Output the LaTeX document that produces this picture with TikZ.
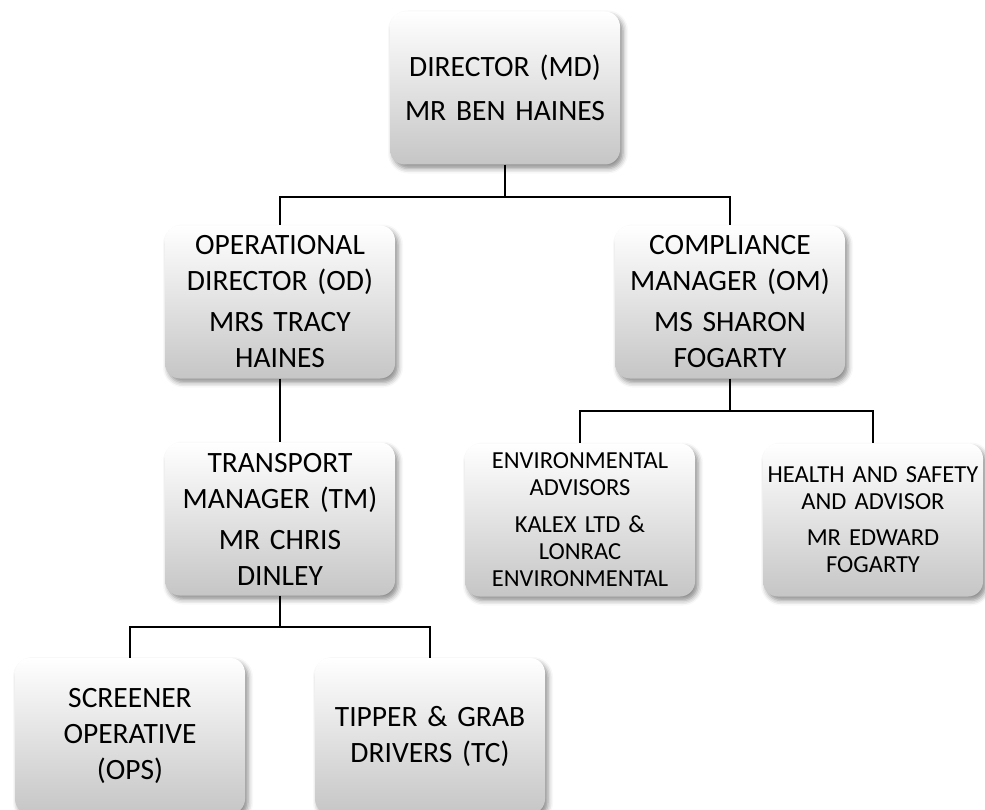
\documentclass[tikz,border=0pt]{standalone}
\usepackage{fontspec}
\setmainfont{Carlito}[WordSpace=0.7]
\usetikzlibrary{positioning, shadows.blur}

\newcommand{\orgfont}{\fontsize{29.5}{36}\selectfont}
\newcommand{\orgsmall}{\fontsize{24.5}{27}\selectfont}

\begin{document}
\begin{tikzpicture}[
    x=1pt, y=-1pt,
    orgbox/.style={rounded corners=15pt, top color=white, bottom color=gray!45,
        minimum width=230pt, minimum height=153pt, text width=222pt,
        align=center, inner sep=0pt, font=\orgfont,
        blur shadow={shadow xshift=3pt, shadow yshift=-4pt,
            shadow blur radius=5pt, shadow opacity=45}},
    link/.style={line width=1.6pt, black},
]
\useasboundingbox (0,0) rectangle (985,810);

% Level 1
\node[orgbox] (dir) at (505,88) {DIRECTOR (MD)\\[8pt]MR BEN HAINES};

% Level 2
\node[orgbox] (od) at (280,302) {OPERATIONAL\\DIRECTOR (OD)\\[5pt]MRS TRACY\\HAINES};
\node[orgbox] (cm) at (730,302) {COMPLIANCE\\MANAGER (OM)\\[5pt]MS SHARON\\FOGARTY};

% Level 3
\node[orgbox] (tm) at (280,519) {TRANSPORT\\MANAGER (TM)\\[5pt]MR CHRIS\\DINLEY};
\node[orgbox, font=\orgsmall] (env) at (580,520)
    {ENVIRONMENTAL\\ADVISORS\\[10pt]KALEX LTD \&\\LONRAC\\ENVIRONMENTAL};
\node[orgbox, font=\orgsmall, minimum width=220pt, text width=218pt] (hs) at (873,520)
    {HEALTH AND SAFETY\\AND ADVISOR\\[9pt]MR EDWARD\\FOGARTY};

% Level 4
\node[orgbox, minimum height=156pt] (scr) at (130,736) {SCREENER\\OPERATIVE\\(OPS)};
\node[orgbox, minimum height=156pt] (tip) at (430,736) {TIPPER \& GRAB\\DRIVERS (TC)};

% Connectors
\coordinate (bustop) at (505,197);
\coordinate (buscm) at (730,411);
\coordinate (bustm) at (280,627);
\draw[link] (dir.south) -- (bustop) -| (od.north);
\draw[link] (bustop) -| (cm.north);
\draw[link] (od.south) -- (tm.north);
\draw[link] (cm.south) -- (buscm) -| (env.north);
\draw[link] (buscm) -| (hs.north);
\draw[link] (tm.south) -- (bustm) -| (scr.north);
\draw[link] (bustm) -| (tip.north);

\end{tikzpicture}
\end{document}
